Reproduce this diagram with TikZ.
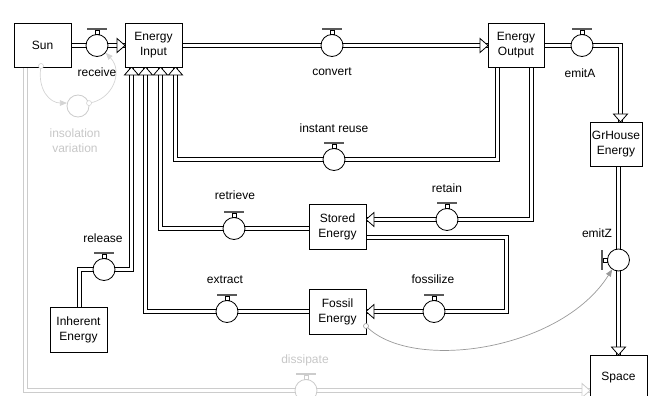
\documentclass[tikz,border=0pt]{standalone}
\usepackage{fontspec}
\setmainfont{Liberation Sans}
\usetikzlibrary{arrows.meta}
\newcommand\parrow[3][black]{\draw[draw=#1, line width=0.8pt, fill=white, line join=miter, shift={#2}, rotate=#3] (0,0) -- (-8,-7) -- (-8,7) -- cycle;}
\begin{document}
\begin{tikzpicture}[x=1pt,y=-1pt,
  stock/.style={draw=black, line width=0.8pt, fill=white, minimum width=57pt, minimum height=44pt, inner sep=0pt, align=center, font=\fontsize{12}{15}\selectfont},
  pipe/.style={draw=black, line width=1pt, double=white, double distance=3pt, line join=miter},
  gpipe/.style={pipe, draw=black!20},
  valve/.style={circle, draw=black, line width=0.8pt, fill=white, minimum size=22pt, inner sep=0pt},
  gvalve/.style={valve, draw=black!20},
  lbl/.style={font=\fontsize{12}{15}\selectfont, inner sep=0pt, align=center},
  glbl/.style={lbl, text=black!22},
  info/.style={draw=black!40, line width=0.7pt, -{Triangle[length=7pt,width=5.5pt]}},
  ginfo/.style={info, draw=black!17},
  stem/.style={draw=black, line width=0.6pt, fill=white},
  bar/.style={draw=black!65, line width=2.2pt}
]
\useasboundingbox (0,0) rectangle (649,396);

% ---- coordinates for pipe corners
\coordinate (sunE) at (71,45.5);
\coordinate (inW) at (125,45.5);
\coordinate (inE) at (182,45.5);
\coordinate (outW) at (488,45.5);
\coordinate (outE) at (544,45.5);
\coordinate (ea) at (620.5,45.5);
\coordinate (gin) at (620.5,122);
\coordinate (gz1) at (618.5,166);
\coordinate (gz2) at (618.5,355);
\coordinate (ir0) at (497.5,67);
\coordinate (ir1) at (497.5,159.5);
\coordinate (ir2) at (175.5,159.5);
\coordinate (ir3) at (175.5,67);
\coordinate (rt0) at (531.5,67);
\coordinate (rt1) at (531.5,219.5);
\coordinate (rt2) at (366,219.5);
\coordinate (fz0) at (366,237.5);
\coordinate (fz1) at (506.5,237.5);
\coordinate (fz2) at (506.5,311.5);
\coordinate (fz3) at (366,311.5);
\coordinate (rv0) at (309,228.5);
\coordinate (rv1) at (160.5,228.5);
\coordinate (rv2) at (160.5,67);
\coordinate (ex0) at (309,311.5);
\coordinate (ex1) at (145.5,311.5);
\coordinate (ex2) at (145.5,67);
\coordinate (rl0) at (79.5,307);
\coordinate (rl1) at (79.5,269.5);
\coordinate (rl2) at (131.5,269.5);
\coordinate (rl3) at (131.5,67);
\coordinate (ds0) at (25.5,67);
\coordinate (ds1) at (25.5,390.5);
\coordinate (ds2) at (590,390.5);
\coordinate (fo) at (366,326);
\coordinate (so) at (41,66);

% ---- gray dissipate pipe
\draw[gpipe] (ds0) -- (ds1) -- (ds2);
\parrow[black!20]{(ds2)}{0}

% ---- pipes
\draw[pipe] (sunE) -- (inW);
\draw[pipe] (inE) -- (outW);
\draw[pipe] (outE) -- (ea) -- (gin);
\draw[pipe] (gz1) -- (gz2);
\draw[pipe] (ir0) -- (ir1) -- (ir2) -- (ir3);
\draw[pipe] (rt0) -- (rt1) -- (rt2);
\draw[pipe] (fz0) -- (fz1) -- (fz2) -- (fz3);
\draw[pipe] (rv0) -- (rv1) -- (rv2);
\draw[pipe] (ex0) -- (ex1) -- (ex2);
\draw[pipe] (rl0) -- (rl1) -- (rl2) -- (rl3);

% ---- arrowheads
\parrow{(inW)}{0}
\parrow{(outW)}{0}
\parrow{(gin)}{-90}
\parrow{(gz2)}{-90}
\parrow{(rt2)}{180}
\parrow{(fz3)}{180}
\parrow{(rl3)}{90}
\parrow{(ex2)}{90}
\parrow{(rv2)}{90}
\parrow{(ir3)}{90}

% ---- stocks
\node[stock] (sun) at (42.5,45) {Sun};
\node[stock] (input) at (153.5,45) {Energy\\Input};
\node[stock, minimum width=56pt] (output) at (516,45) {Energy\\Output};
\node[stock, minimum width=52pt] (grh) at (616,144) {GrHouse\\Energy};
\node[stock, minimum height=45pt] (stored) at (337.5,226.5) {Stored\\Energy};
\node[stock, minimum height=45pt] (fossil) at (337.5,311.5) {Fossil\\Energy};
\node[stock, minimum height=45pt] (inherent) at (78.5,329.5) {Inherent\\Energy};
\node[stock, minimum height=45pt] (space) at (618.5,377.5) {Space};

% ---- valves
\node[valve] (receive) at (97,45.5) {};
\node[valve] (convert) at (332,45.5) {};
\node[valve] (emitA) at (582,45.5) {};
\node[valve] (reuse) at (334,159.5) {};
\node[valve] (retain) at (447,219.5) {};
\node[valve] (retrieve) at (234,228.5) {};
\node[valve] (fossilize) at (434,311.5) {};
\node[valve] (extract) at (227,311.5) {};
\node[valve] (release) at (104,269.5) {};
\node[valve] (emitZ) at (618.5,260) {};
\node[gvalve] (dissipate) at (306,390.5) {};
\node[gvalve] (insol) at (78,106) {};

\foreach \v in {receive,convert,emitA,reuse,retain,retrieve,fossilize,extract,release}{
  \draw[stem] (\v.north) ++(-2,0) rectangle ++(4,-3.5);
  \draw[bar] (\v.north) ++(-10,-4.8) -- ++(20,0);
}
\draw[stem] (emitZ.west) ++(0,-2) rectangle ++(-3.5,4);
\draw[bar] (emitZ.west) ++(-4.8,-10) -- ++(0,20);
\draw[stem, draw=black!20] (dissipate.north) ++(-2,0) rectangle ++(4,-3.5);
\draw[bar, draw=black!20] (dissipate.north) ++(-10,-4.8) -- ++(20,0);

% ---- information links
\draw[ginfo] (so) .. controls (37,90) and (50,103) .. (insol.165);
\draw[ginfo] (insol.15) .. controls (112,100) and (124,72) .. (receive.-40);
\draw[draw=black!17, line width=0.6pt, fill=white] (so) circle (2.5);
\draw[draw=black!17, line width=0.6pt, fill=white] (insol.15) circle (2.5);
\draw[info] (fo) .. controls (410,372) and (560,352) .. (emitZ.-124);
\draw[draw=black!40, line width=0.6pt, fill=white] (fo) circle (2.5);

% ---- labels
\node[lbl] (lreceive) at (97,72) {receive};
\node[lbl] (lconvert) at (332,72) {convert};
\node[lbl] (lemitA) at (580,73) {emitA};
\node[lbl] (lreuse) at (334,128) {instant reuse};
\node[lbl] (lretain) at (447,188) {retain};
\node[lbl] (lretrieve) at (235,195) {retrieve};
\node[lbl] (lfossilize) at (433,279) {fossilize};
\node[lbl] (lextract) at (225,280) {extract};
\node[lbl] (lrelease) at (103,238) {release};
\node[lbl] (lemitZ) at (597,233) {emitZ};
\node[glbl] (ldissipate) at (305,360) {dissipate};
\node[glbl] (linsol) at (75,141) {insolation\\variation};
\end{tikzpicture}
\end{document}
